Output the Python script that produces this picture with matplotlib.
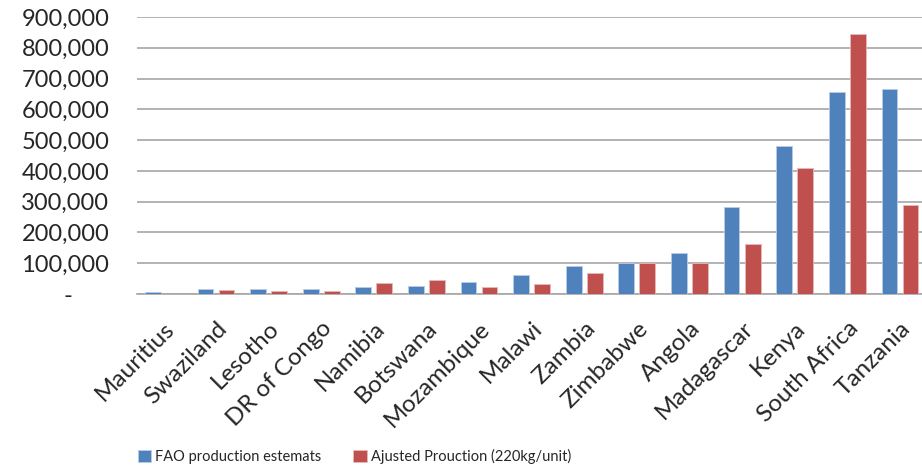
import matplotlib.pyplot as plt
import numpy as np
from matplotlib.ticker import FuncFormatter

# === Datos ===
countries = ["Mauritius", "Swaziland", "Lesotho", "DR of Congo", "Namibia", "Botswana",
             "Mozambique", "Malawi", "Zambia", "Zimbabwe", "Angola", "Madagascar",
             "Kenya", "South Africa", "Tanzania"]
fao = [5500, 17500, 17500, 17500, 23000, 27000, 39000, 63000, 92000, 100000,
       134000, 284000, 480000, 656000, 666000]
adjusted = [1000, 14000, 9500, 9500, 35000, 47000, 22000, 34000, 67000, 100000,
            100000, 164000, 409000, 844000, 288000]

plt.rcParams["font.family"] = ["Lato", "DejaVu Sans"]

fig = plt.figure(figsize=(9.22, 4.72), dpi=100)
ax = fig.add_axes([0.1486, 0.377, 0.856, 0.587])

x = np.arange(len(countries))
w = 0.3
ax.bar(x - 0.2, fao, w, color="#4F81BD", edgecolor="#B8CCE4", linewidth=0.6,
       label="FAO production estemats", zorder=3)
ax.bar(x + 0.2, adjusted, w, color="#C0504D", edgecolor="#E6B9B8", linewidth=0.6,
       label="Ajusted Prouction (220kg/unit)", zorder=3)

ax.set_xlim(-0.5, len(countries) - 0.5)
ax.set_ylim(0, 900000)
ax.set_yticks(np.arange(0, 900001, 100000))
ax.yaxis.set_major_formatter(FuncFormatter(lambda v, p: "-      " if v == 0 else f"{v:,.0f}"))
ax.grid(axis="y", color="#A6A6A6", linewidth=1.2, zorder=0)

for s in ["top", "right", "left"]:
    ax.spines[s].set_visible(False)
ax.spines["bottom"].set_color("#A6A6A6")
ax.spines["bottom"].set_linewidth(1.2)

ax.tick_params(axis="y", length=0, pad=20, labelsize=17, colors="#262626")
ax.tick_params(axis="x", length=0, pad=17, labelsize=17.5, colors="#262626")
ax.set_xticks(x)
ax.set_xticklabels(countries, rotation=45, ha="right", rotation_mode="anchor")

fig.legend(loc="center left", bbox_to_anchor=(0.135, 0.032), ncol=2, frameon=False,
           fontsize=10.5, handlelength=0.9, handleheight=0.9, handletextpad=0.3,
           columnspacing=2.2, labelcolor="#262626")

fig.savefig("out.png", dpi=100)
